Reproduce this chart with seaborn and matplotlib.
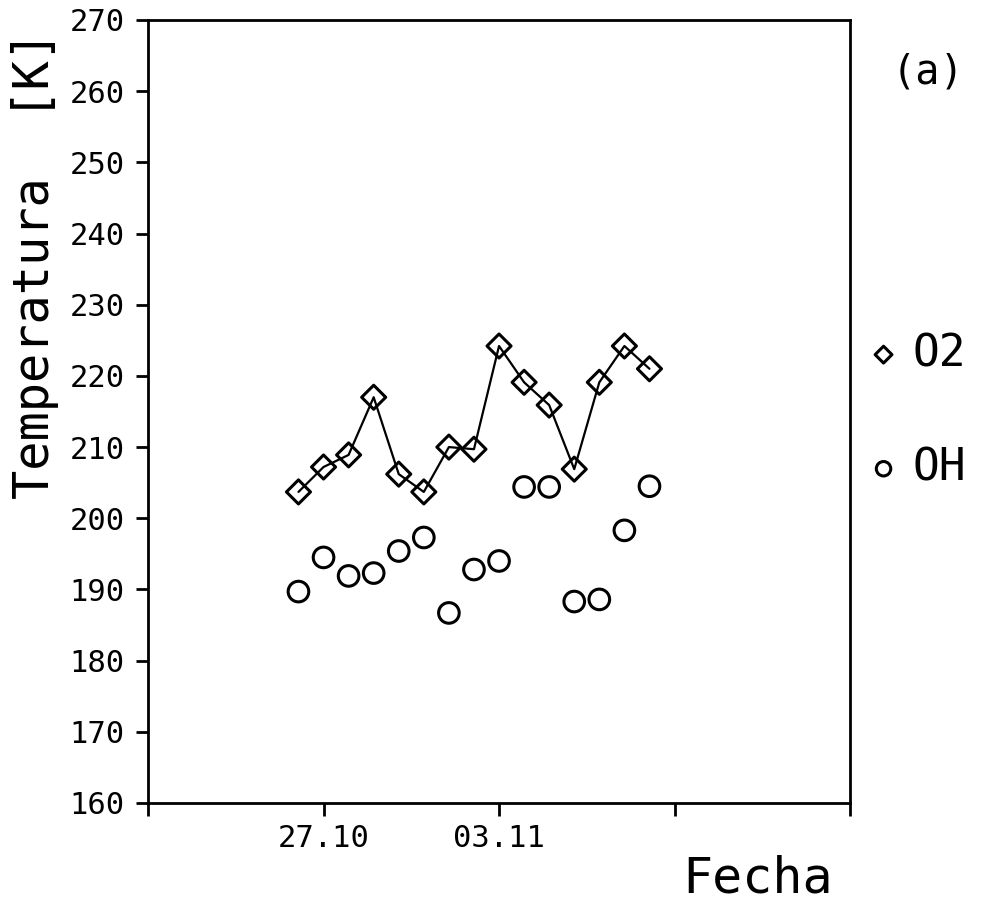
import pandas as pd
import matplotlib.pyplot as plt
import seaborn as sns

# Temperatures (a)
fechas = ["26.10", "27.10", "28.10", "29.10", "30.10", "31.10", "01.11", "02.11",
          "03.11", "04.11", "05.11", "06.11", "07.11", "08.11", "09.11"]
temp_o2 = [203.7, 207.2, 208.9, 217.0, 206.2, 203.7, 210.0, 209.7,
           224.2, 219.1, 215.9, 206.9, 219.1, 224.2, 221.0]
temp_oh = [189.7, 194.5, 191.9, 192.3, 195.4, 197.3, 186.7, 192.8,
           194.0, 204.4, 204.4, 188.3, 188.6, 198.3, 204.5]
tick_fechas = ["20.10", "27.10", "03.11", "10.11", "17.11"]
tick_labels = ["", "27.10", "03.11", "", ""]

def to_date(s):
    return pd.to_datetime(s + ".1993", format="%d.%m.%Y")

data = pd.DataFrame({"Fecha": [to_date(f) for f in fechas],
                     "O2": temp_o2, "OH": temp_oh})

sns.set_style("white")
plt.rcParams["font.family"] = ["DejaVu Sans Mono", "DejaVu Sans"]
plt.rcParams["text.color"] = "black"
plt.rcParams["xtick.color"] = "black"
plt.rcParams["ytick.color"] = "black"

fig = plt.figure(figsize=(9.81, 9.13), dpi=100)
ax = fig.add_axes([0.1509, 0.1205, 0.7156, 0.8576])

sns.lineplot(x="Fecha", y="O2", data=data, color="black", lw=1.6, ax=ax, legend=False)
sns.scatterplot(x="Fecha", y="O2", data=data, marker="D", s=150, facecolor="none",
                edgecolor="black", linewidth=2.2, ax=ax, label="O2", zorder=3)
sns.scatterplot(x="Fecha", y="OH", data=data, marker="o", s=220, facecolor="none",
                edgecolor="black", linewidth=2.2, ax=ax, label="OH", zorder=3)

ax.set_xlim(to_date("20.10"), to_date("17.11"))
ax.set_ylim(160, 270)
ax.set_xticks([to_date(t) for t in tick_fechas])
ax.set_xticklabels(tick_labels)
ax.set_yticks(range(160, 271, 10))
ax.tick_params(axis="both", direction="out", length=9, width=2, labelsize=22,
               bottom=True, left=True, top=False, right=False)
ax.tick_params(axis="x", pad=6)
ax.tick_params(axis="y", pad=8)
for sp in ax.spines.values():
    sp.set_linewidth(2)
    sp.set_color("black")
ax.set_xlabel("")
ax.set_ylabel("")

fig.text(0.036, 0.71, "Temperatura  [K]", rotation=90, fontsize=35,
         ha="center", va="center")
fig.text(0.772, 0.012, "Fecha", fontsize=36, ha="center", va="bottom")
fig.text(0.946, 0.921, "(a)", fontsize=29, ha="center", va="center")

handles, labels = ax.get_legend_handles_labels()
ax.legend_.remove()
fig.legend(handles, labels, loc="center left", bbox_to_anchor=(0.878, 0.55),
           frameon=False, handletextpad=0.15, labelspacing=1.6, markerscale=0.7,
           handlelength=1.0, borderpad=0, borderaxespad=0,
           prop={"family": "DejaVu Sans Mono", "size": 32})

fig.savefig("out.png", dpi=100)
